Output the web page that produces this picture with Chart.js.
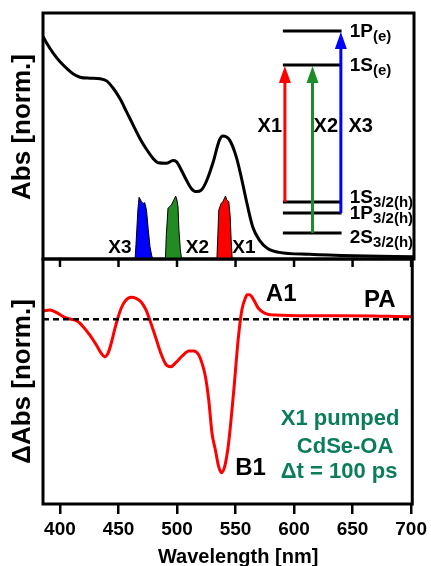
<!DOCTYPE html>
<html>
<head>
<meta charset="utf-8">
<script src="https://cdn.jsdelivr.net/npm/chart.js@4.4.1/dist/chart.umd.min.js"></script>
<style>
  html, body { margin: 0; padding: 0; background: #fff; }
  #wrap { position: relative; width: 431px; height: 566px; overflow: hidden; }
  #tasBox { position: absolute; left: 0; top: 250px; }
  #absBox { position: absolute; left: 0; top: 0; }
</style>
</head>
<body>
<div id="wrap">
  <div id="tasBox"><canvas id="tas" width="431" height="316"></canvas></div>
  <div id="absBox"><canvas id="abs" width="431" height="262"></canvas></div>
</div>
<script>
// ---- data ----
const wavelengthTicks = [400, 450, 500, 550, 600, 650, 700];
const wlMin = 385.5, wlMax = 701;

// steady-state absorption, normalised
const absWl  = [385.5, 388.7, 394.3, 400, 405.7, 411.3, 417, 425.4, 433.9, 439.6, 445.2, 450.8, 456.5, 462.1, 467.8, 473.5, 479.1, 483.3, 490.4, 496, 498.9, 503.1, 507.4, 511.6, 515.9, 520.1, 524.3, 529.9, 535.6, 538.4, 544.1, 549.8, 554, 558.3, 563.8, 569.5, 576.5, 586.4, 611.9, 650, 701];
const absVal = [0.905, 0.877, 0.836, 0.802, 0.775, 0.752, 0.739, 0.735, 0.733, 0.724, 0.694, 0.653, 0.599, 0.545, 0.491, 0.446, 0.409, 0.391, 0.389, 0.400, 0.396, 0.362, 0.321, 0.287, 0.274, 0.280, 0.314, 0.389, 0.484, 0.500, 0.484, 0.416, 0.335, 0.240, 0.131, 0.077, 0.043, 0.027, 0.019, 0.013, 0.009];

// pump spectra
const pumpX3Wl  = [463.8, 464.6, 466.2, 467.2, 468.2, 469.2, 470.6, 472.0, 473.5, 475.0, 476.5, 478.0, 479.2];
const pumpX3Val = [0, 0.06, 0.2, 0.251, 0.243, 0.233, 0.226, 0.229, 0.199, 0.12, 0.05, 0.012, 0];
const pumpX2Wl  = [489.6, 490.4, 491.8, 494.7, 497.5, 498.3, 499.4, 500.3, 501.1, 502.3, 503.4];
const pumpX2Val = [0, 0.1, 0.206, 0.220, 0.247, 0.256, 0.240, 0.213, 0.118, 0.037, 0];
const pumpX1Wl  = [533.4, 534.2, 535.0, 537.0, 538.4, 539.8, 540.7, 541.8, 543.5, 544.7, 545.5, 546.4];
const pumpX1Val = [0, 0.1, 0.199, 0.226, 0.233, 0.247, 0.256, 0.240, 0.233, 0.172, 0.077, 0];
const pumpLabels = ['X3', 'X2', 'X1'];
const pumpLabelWl = [450.9, 516.8, 556.3];
const pumpLabelVal = [0.045, 0.045, 0.045];

// energy level sketch (drawn in the abs panel's units)
const levelMain = ['1P', '1S', '1S', '1P', '2S'];
const levelSub = ['(e)', '(e)', '3/2(h)', '3/2(h)', '3/2(h)'];
const levelVal = [0.927, 0.789, 0.232, 0.187, 0.106];
const levelLabelVal = [0.925, 0.785, 0.250, 0.185, 0.087];
const levelWl = [589.5, 639.4];
const levelLabelWl = 646.4;
const transNames = ['X1', 'X2', 'X3'];
const transWl = [591.2, 614.7, 638.8];
const transFrom = [2, 4, 3];
const transTo = [1, 1, 0];
const transColors = ['#ff0000', '#1e8c28', '#0000ff'];
const transLabelWl = [578.4, 626, 655.7];
const transLabelVal = 0.537;

// transient absorption, X1 pumped, 100 ps
const dAbsWl  = [385.9, 391.5, 397.2, 402.8, 408.5, 414.1, 419.8, 425.4, 431.1, 435.3, 438.1, 441.0, 443.8, 446.6, 449.4, 452.3, 455.9, 460.8, 465.0, 469.2, 473.5, 477.7, 482.0, 486.2, 490.4, 494.7, 498.9, 504.5, 510.2, 514.4, 518.6, 521.4, 524.3, 527.1, 529.9, 532.8, 535.6, 537.9, 540.7, 544.1, 548.3, 552.5, 555.4, 558.3, 560.0, 562.0, 565.3, 569.5, 575.2, 583.7, 611.9, 640.1, 668.4, 698.0, 701];
const dAbsVal = [0.054, 0.061, 0.043, 0.017, 0.002, -0.009, -0.048, -0.102, -0.168, -0.222, -0.244, -0.222, -0.156, -0.070, 0.007, 0.072, 0.121, 0.143, 0.137, 0.115, 0.061, -0.026, -0.124, -0.222, -0.293, -0.309, -0.283, -0.239, -0.207, -0.207, -0.233, -0.287, -0.374, -0.526, -0.743, -0.852, -0.961, -1.0, -0.961, -0.806, -0.480, -0.113, 0.061, 0.137, 0.160, 0.160, 0.130, 0.072, 0.039, 0.028, 0.023, 0.023, 0.022, 0.017, 0.017];
const featureNames = ['A1', 'PA', 'B1'];
const featureWl = [589.0, 673.3, 562.9];
const featureVal = [0.165, 0.126, -0.975];
const noteLines = ['X1 pumped', 'CdSe-OA', '\u0394t = 100 ps'];
const noteWl = [639.3, 643.6, 638.5];
const noteVal = [-0.650, -0.835, -0.998];

// ---- helpers ----
const FONT = '"Liberation Sans", Arial, Helvetica, sans-serif';
const pts = (xs, ys) => xs.map((x, i) => ({ x, y: ys[i] }));

function label(ctx, str, x, y, size, color = '#000', align = 'center') {
  ctx.font = `bold ${size}px ${FONT}`;
  ctx.fillStyle = color;
  ctx.textAlign = align;
  ctx.textBaseline = 'middle';
  ctx.fillText(str, x, y);
}

function vtitle(ctx, str, x, y, size) {
  ctx.save();
  ctx.translate(x, y);
  ctx.rotate(-Math.PI / 2);
  label(ctx, str, 0, 0, size);
  ctx.restore();
}

const framePlugin = {
  id: 'frame',
  afterDatasetsDraw(chart, args, opts) {
    const { ctx, chartArea: a } = chart;
    ctx.save();
    ctx.strokeStyle = '#000';
    ctx.lineWidth = 3;
    ctx.strokeRect(a.left, a.top, a.right - a.left, a.bottom - a.top);
    if (opts.innerTicks) {
      const xs = chart.scales.x;
      ctx.lineWidth = 2.5;
      ctx.beginPath();
      wavelengthTicks.forEach(t => {
        const px = xs.getPixelForValue(t);
        ctx.moveTo(px, a.top);
        ctx.lineTo(px, a.top + 8);
      });
      ctx.stroke();
    }
    ctx.restore();
  }
};

// top panel: labels, level sketch, arrows
const absPlugin = {
  id: 'absNotes',
  afterDatasetsDraw(chart) {
    const { ctx, chartArea: a, scales: { x, y } } = chart;
    ctx.save();
    vtitle(ctx, 'Abs [norm.]', a.left - 20, a.top + 114, 26);
    pumpLabels.forEach((t, i) => label(ctx, t, x.getPixelForValue(pumpLabelWl[i]), y.getPixelForValue(pumpLabelVal[i]), 19));

    // levels
    ctx.strokeStyle = '#000';
    ctx.lineWidth = 3;
    const x0 = x.getPixelForValue(levelWl[0]), x1 = x.getPixelForValue(levelWl[1]);
    levelVal.forEach(v => {
      const py = y.getPixelForValue(v);
      ctx.beginPath(); ctx.moveTo(x0, py); ctx.lineTo(x1, py); ctx.stroke();
    });
    const lx = x.getPixelForValue(levelLabelWl);
    levelMain.forEach((m, i) => {
      const py = y.getPixelForValue(levelLabelVal[i]);
      label(ctx, m, lx, py, 19, '#000', 'left');
      const w = ctx.measureText(m).width;
      label(ctx, levelSub[i], lx + w, py + 5, 15, '#000', 'left');
    });

    // transitions
    transNames.forEach((n, i) => {
      const px = x.getPixelForValue(transWl[i]);
      const yb = y.getPixelForValue(levelVal[transFrom[i]]);
      const yt = y.getPixelForValue(levelVal[transTo[i]]);
      ctx.strokeStyle = transColors[i];
      ctx.fillStyle = transColors[i];
      ctx.lineWidth = 3;
      ctx.beginPath(); ctx.moveTo(px, yb); ctx.lineTo(px, yt + 12); ctx.stroke();
      ctx.beginPath();
      ctx.moveTo(px, yt + 1);
      ctx.lineTo(px - 6, yt + 18);
      ctx.lineTo(px + 6, yt + 18);
      ctx.closePath(); ctx.fill();
      label(ctx, n, x.getPixelForValue(transLabelWl[i]), y.getPixelForValue(transLabelVal), 20);
    });
    ctx.restore();
  }
};

// bottom panel: feature labels, note, titles
const tasPlugin = {
  id: 'tasNotes',
  afterDatasetsDraw(chart) {
    const { ctx, chartArea: a, scales: { x, y } } = chart;
    ctx.save();
    vtitle(ctx, '\u0394Abs [norm.]', a.left - 20, (a.top + a.bottom) / 2, 26);
    label(ctx, 'Wavelength [nm]', (a.left + a.right) / 2 + 10.5, a.bottom + 53, 20);
    featureNames.forEach((t, i) => label(ctx, t, x.getPixelForValue(featureWl[i]), y.getPixelForValue(featureVal[i]), 24));
    noteLines.forEach((t, i) => label(ctx, t, x.getPixelForValue(noteWl[i]), y.getPixelForValue(noteVal[i]), 22, '#0b7d5c'));
    ctx.restore();
  }
};

Chart.defaults.font.family = FONT;
Chart.defaults.color = '#000';

const line = (data, color, width) => ({
  data, borderColor: color, borderWidth: width, pointRadius: 0,
  fill: false, cubicInterpolationMode: 'monotone'
});
const pump = (data, color) => ({
  data, borderColor: '#000', backgroundColor: color, borderWidth: 1,
  pointRadius: 0, fill: 'origin', tension: 0
});

new Chart(document.getElementById('abs'), {
  type: 'line',
  data: {
    datasets: [
      pump(pts(pumpX3Wl, pumpX3Val), '#0000ff'),
      pump(pts(pumpX2Wl, pumpX2Val), '#228b22'),
      pump(pts(pumpX1Wl, pumpX1Val), '#ff0000'),
      line(pts(absWl, absVal), '#000', 3),
    ],
  },
  options: {
    responsive: false,
    animation: false,
    devicePixelRatio: 1,
    layout: { padding: { top: 13, bottom: 3, left: 43, right: 17 } },
    plugins: { legend: { display: false }, tooltip: { enabled: false }, frame: {} },
    scales: {
      x: { type: 'linear', min: wlMin, max: wlMax, display: false },
      y: { min: 0, max: 1, display: false },
    },
  },
  plugins: [framePlugin, absPlugin],
});

new Chart(document.getElementById('tas'), {
  type: 'line',
  data: {
    datasets: [
      { ...line([{ x: wlMin, y: 0 }, { x: wlMax, y: 0 }], '#000', 2.5), borderDash: [6, 4] },
      line(pts(dAbsWl, dAbsVal), '#ff0000', 3),
    ],
  },
  options: {
    responsive: false,
    animation: false,
    devicePixelRatio: 1,
    layout: { padding: { top: 9, bottom: 0, left: 43, right: 17 } },
    plugins: { legend: { display: false }, tooltip: { enabled: false }, frame: { innerTicks: true } },
    scales: {
      x: {
        type: 'linear', min: wlMin, max: wlMax,
        afterBuildTicks: s => { s.ticks = wavelengthTicks.map(v => ({ value: v })); },
        afterFit: s => { s.height = 62; },
        ticks: { font: { size: 19, weight: 'bold' }, color: '#000', padding: 4, autoSkip: false, maxRotation: 0 },
        grid: { drawOnChartArea: false, drawTicks: true, tickLength: 10, color: '#000', lineWidth: 2.5 },
        border: { display: false },
      },
      y: { min: -1.204, max: 0.393, display: false },
    },
  },
  plugins: [framePlugin, tasPlugin],
});
</script>
</body>
</html>
